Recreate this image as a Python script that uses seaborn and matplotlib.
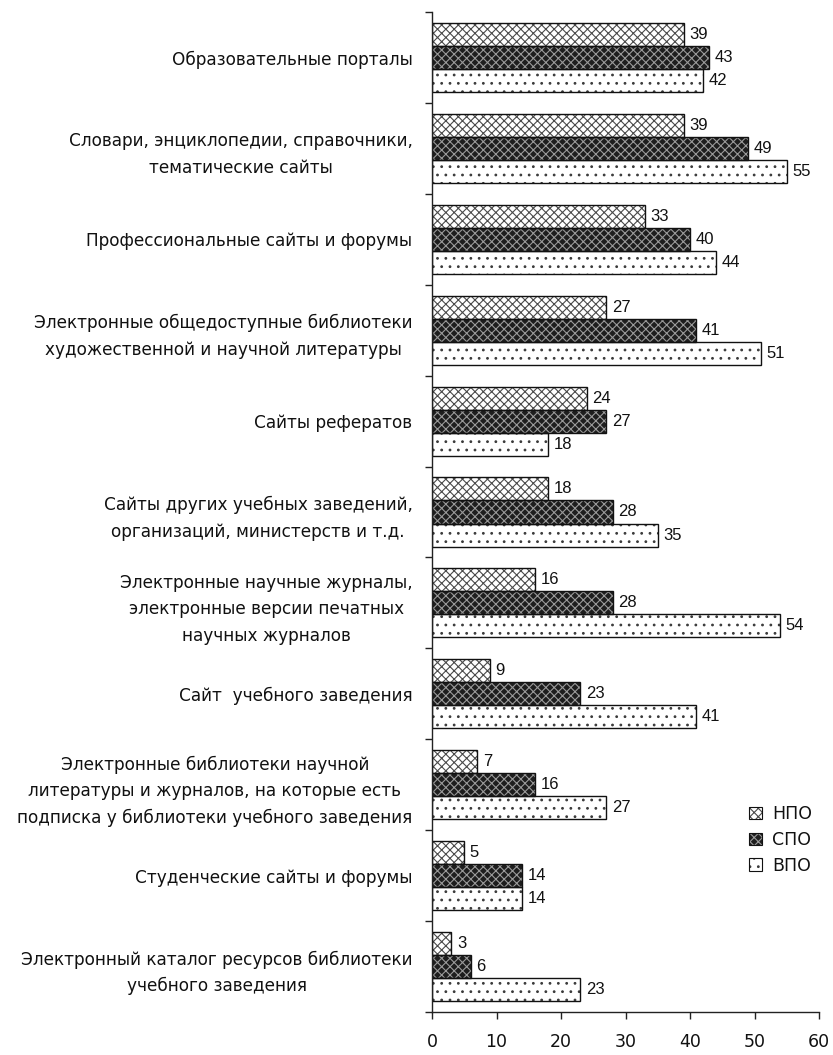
import matplotlib
matplotlib.use("Agg")
import matplotlib.pyplot as plt
import pandas as pd
import seaborn as sns
from matplotlib.patches import Rectangle, Patch
from matplotlib.legend_handler import HandlerTuple

# Data
categories = [
    "Образовательные порталы",
    "Словари, энциклопедии, справочники,\nтематические сайты",
    "Профессиональные сайты и форумы",
    "Электронные общедоступные библиотеки\nхудожественной и научной литературы",
    "Сайты рефератов",
    "Сайты других учебных заведений,\nорганизаций, министерств и т.д.",
    "Электронные научные журналы,\nэлектронные версии печатных\nнаучных журналов",
    "Сайт  учебного заведения",
    "Электронные библиотеки научной\nлитературы и журналов, на которые есть\nподписка у библиотеки учебного заведения",
    "Студенческие сайты и форумы",
    "Электронный каталог ресурсов библиотеки\nучебного заведения",
]
groups = ["НПО", "СПО", "ВПО"]
npo = [39, 39, 33, 27, 24, 18, 16, 9, 7, 5, 3]
spo = [43, 49, 40, 41, 27, 28, 28, 23, 16, 14, 6]
vpo = [42, 55, 44, 51, 18, 35, 54, 41, 27, 14, 23]
x_ticks = [0, 10, 20, 30, 40, 50, 60]

df = pd.DataFrame({
    "category": categories * 3,
    "group": [g for g in groups for _ in categories],
    "value": npo + spo + vpo,
})

# styles per group: facecolor, hatch, hatch colour
styles = {
    "НПО": ("white", "xxxx", "#4a4a4a"),
    "СПО": ("#1e1e1e", "xxxx", "#9a9a9a"),
    "ВПО": ("white", "..", "#3a3a3a"),
}

sns.set_style("white")
plt.rcParams["font.family"] = ["DejaVu Sans"]
plt.rcParams["hatch.linewidth"] = 0.8
plt.rcParams["text.color"] = "#111111"
plt.rcParams["xtick.labelcolor"] = "#111111"
plt.rcParams["ytick.labelcolor"] = "#111111"

fig = plt.figure(figsize=(8.33, 10.55), dpi=100)
ax = fig.add_axes([432 / 833, 1 - 1012 / 1055, 387 / 833, 1000 / 1055])

sns.barplot(data=df, y="category", x="value", hue="group", orient="h",
            order=categories, hue_order=groups, width=0.76, legend=False,
            palette=["white"] * 3, ax=ax)

for cont, g in zip(ax.containers, groups):
    fc, hatch, hc = styles[g]
    for p in cont:
        p.set_facecolor(fc)
        p.set_hatch(hatch)
        p.set_edgecolor(hc)
        p.set_linewidth(0)
        ax.add_patch(Rectangle(p.get_xy(), p.get_width(), p.get_height(),
                               fill=False, edgecolor="#111111", linewidth=1.0))
    ax.bar_label(cont, labels=[str(int(v)) for v in cont.datavalues], padding=4,
                 fontsize=12, family="Liberation Sans")

ax.set_xlim(0, 60)
ax.set_ylim(len(categories) - 0.5, -0.5)
ax.set_xticks(x_ticks)
ax.set_xticklabels([str(t) for t in x_ticks], fontsize=12.5)
ax.set_yticks(range(len(categories)))
ax.set_yticklabels(categories, fontsize=12.2, linespacing=1.6)
for lab in ax.get_yticklabels():
    lab.set_multialignment("center")
ax.set_yticks([i - 0.5 for i in range(len(categories) + 1)], minor=True)
ax.tick_params(axis="y", which="major", length=0, pad=14)
ax.tick_params(axis="y", which="minor", length=5, width=1, color="#222222", left=True)
ax.tick_params(axis="x", length=5, width=1, color="#222222", pad=10, bottom=True)
ax.set_xlabel("")
ax.set_ylabel("")
sns.despine(ax=ax)
for s in ["left", "bottom"]:
    ax.spines[s].set_color("#222222")
    ax.spines[s].set_linewidth(1)

handles = []
for g in groups:
    fc, hatch, hc = styles[g]
    handles.append((Patch(facecolor=fc, hatch=hatch, edgecolor=hc, linewidth=0),
                    Patch(fill=False, edgecolor="#111111", linewidth=0.8)))
fig.legend(handles, groups, loc="center left", bbox_to_anchor=(733 / 833, 1 - 840 / 1055),
           frameon=False, fontsize=12.5, handlelength=0.75, handleheight=0.75,
           handletextpad=0.6, labelspacing=0.45,
           handler_map={tuple: HandlerTuple(ndivide=1, pad=0)})

fig.savefig("out.png", dpi=100)
